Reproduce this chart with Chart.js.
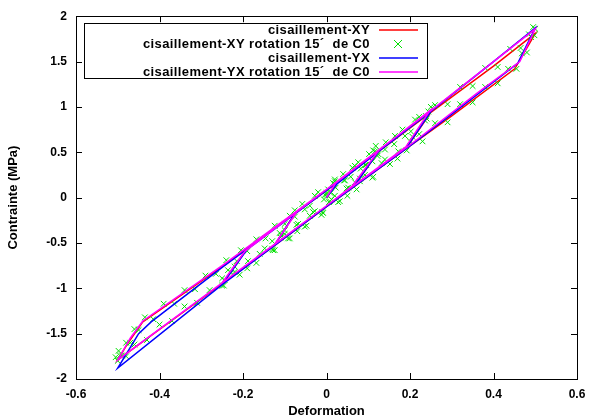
<!DOCTYPE html>
<html lang="fr">
<head>
<meta charset="UTF-8">
<title>Cisaillement</title>
<style>
  html, body { margin: 0; padding: 0; background: #fff; }
  #wrap { width: 602px; height: 420px; }
</style>
</head>
<body>
<div id="wrap"><canvas id="chart" width="602" height="420"></canvas></div>
<script src="https://cdn.jsdelivr.net/npm/chart.js"></script>
<script>
// axes
const xTicks = [-0.6, -0.4, -0.2, 0, 0.2, 0.4, 0.6];
const yTicks = [-2, -1.5, -1, -0.5, 0, 0.5, 1, 1.5, 2];

const seriesNames = [
  'cisaillement-XY',
  'cisaillement-XY rotation 15\u00B4  de C0',
  'cisaillement-YX',
  'cisaillement-YX rotation 15\u00B4  de C0'
];

// cisaillement-XY (red line)
const xyPath = [
  [0, 0], [0.025, 0.16], [0.125, 0.51], [0.065, 0.12], [0, -0.10], [-0.125, -0.53],
  [-0.075, -0.17], [0, 0.08], [0.125, 0.51], [0.25, 0.94], [0.19, 0.54], [0, -0.10],
  [-0.125, -0.53], [-0.25, -0.95], [-0.19, -0.56], [0, 0.08], [0.25, 0.94], [0.4, 1.45],
  [0.5, 1.81], [0.451, 1.42], [0.3, 0.90], [0.2, 0.57], [0, -0.10], [-0.25, -0.95],
  [-0.5, -1.79], [-0.475, -1.60], [-0.44, -1.37], [-0.25, -0.76], [0, 0.08], [0.25, 0.94],
  [0.4, 1.45], [0.5, 1.81]
];

// cisaillement-XY rotation 15 (green crosses)
const xyRotPts = [
  [0, 0.03], [0.004, 0.09], [-0.006, -0.02], [0.01, 0.05], [0.016, 0.16], [0.022, 0.11], [0.006, -0.05],
  [0.04, 0.26], [0.058, 0.23], [0.076, 0.39], [0.094, 0.36], [0.112, 0.52], [0.124, 0.48], [0.118, 0.57],
  [0.11, 0.40], [0.095, 0.36], [0.08, 0.18], [0.068, 0.17],
  [0.048, 0.10], [0.028, -0.05], [0.008, -0.04], [-0.012, -0.19], [-0.032, -0.16], [-0.052, -0.32],
  [-0.072, -0.30], [-0.092, -0.45], [-0.11, -0.44], [-0.124, -0.58], [-0.13, -0.48],
  [-0.112, -0.39], [-0.1, -0.36], [-0.088, -0.20], [-0.076, -0.21],
  [-0.058, -0.07], [-0.04, -0.09], [-0.02, 0.06], [0.0, 0.05], [0.02, 0.18], [0.042, 0.19],
  [0.062, 0.33], [0.082, 0.32], [0.102, 0.48], [0.122, 0.46], [0.142, 0.61], [0.162, 0.59],
  [0.182, 0.75], [0.202, 0.73], [0.222, 0.89], [0.24, 0.87], [0.25, 1.00], [0.244, 0.95],
  [0.238, 0.90], [0.222, 0.70], [0.206, 0.67], [0.192, 0.52],
  [0.172, 0.51], [0.152, 0.37], [0.132, 0.38], [0.112, 0.23], [0.092, 0.25], [0.072, 0.09],
  [0.052, 0.11], [0.032, -0.04], [0.012, -0.02], [-0.008, -0.17], [-0.028, -0.15], [-0.048, -0.31],
  [-0.068, -0.29], [-0.088, -0.45], [-0.108, -0.42], [-0.128, -0.58], [-0.148, -0.56],
  [-0.168, -0.72], [-0.188, -0.70], [-0.208, -0.85], [-0.228, -0.83], [-0.246, -0.97],
  [-0.25, -0.89], [-0.244, -0.91],
  [-0.236, -0.80], [-0.22, -0.76], [-0.205, -0.58], [-0.19, -0.59],
  [-0.168, -0.46], [-0.146, -0.45], [-0.124, -0.31], [-0.1, -0.29], [-0.076, -0.14], [-0.052, -0.13],
  [-0.028, 0.02], [-0.004, 0.03], [0.02, 0.20], [0.044, 0.19], [0.068, 0.35], [0.092, 0.36],
  [0.116, 0.51], [0.14, 0.53], [0.164, 0.68], [0.188, 0.68], [0.212, 0.86], [0.236, 0.85],
  [0.26, 1.02], [0.29, 1.03], [0.32, 1.22], [0.35, 1.23], [0.38, 1.43], [0.41, 1.44],
  [0.44, 1.64], [0.465, 1.65], [0.485, 1.80], [0.498, 1.79], [0.5, 1.86], [0.495, 1.88],
  [0.49, 1.77], [0.48, 1.60], [0.468, 1.59], [0.455, 1.42],
  [0.435, 1.42], [0.41, 1.26], [0.38, 1.22], [0.35, 1.05], [0.32, 1.03], [0.29, 0.83],
  [0.26, 0.82], [0.23, 0.62], [0.2, 0.62], [0.17, 0.43], [0.14, 0.42], [0.11, 0.22],
  [0.08, 0.21], [0.05, 0.02], [0.02, 0.02], [-0.01, -0.16], [-0.04, -0.20], [-0.07, -0.37],
  [-0.1, -0.40], [-0.13, -0.57], [-0.16, -0.62], [-0.19, -0.78], [-0.22, -0.82], [-0.25, -0.97],
  [-0.28, -1.02], [-0.31, -1.16], [-0.34, -1.20], [-0.37, -1.36], [-0.4, -1.40], [-0.43, -1.57],
  [-0.46, -1.62], [-0.48, -1.75], [-0.495, -1.74], [-0.5, -1.80], [-0.505, -1.76], [-0.498, -1.69],
  [-0.49, -1.74], [-0.48, -1.60], [-0.47, -1.60], [-0.46, -1.45], [-0.45, -1.46], [-0.435, -1.32],
  [-0.415, -1.34], [-0.39, -1.17], [-0.365, -1.17], [-0.34, -1.02], [-0.315, -1.01], [-0.29, -0.86],
  [-0.265, -0.84], [-0.24, -0.69], [-0.215, -0.70]
];

// cisaillement-YX (blue line)
const yxPath = [
  [0, 0], [0.025, 0.15], [0.125, 0.51], [0.065, 0.12], [0, -0.10], [-0.125, -0.53],
  [-0.075, -0.17], [0, 0.08], [0.125, 0.51], [0.25, 0.95], [0.19, 0.54], [0, -0.10],
  [-0.125, -0.53], [-0.25, -0.96], [-0.19, -0.57], [0, 0.08], [0.25, 0.95], [0.4, 1.50],
  [0.5, 1.87], [0.458, 1.48], [0.3, 0.92], [0.2, 0.57], [0, -0.10], [-0.25, -0.96],
  [-0.5, -1.88], [-0.45, -1.50], [-0.42, -1.37], [-0.25, -0.77], [0, 0.08], [0.25, 0.95],
  [0.4, 1.50], [0.5, 1.87]
];

// cisaillement-YX rotation 15 (magenta line)
const yxRotPath = [
  [0, 0], [0.022, 0.16], [0.125, 0.52], [0.062, 0.13], [0, -0.09], [-0.125, -0.52],
  [-0.07, -0.15], [0, 0.09], [0.125, 0.52], [0.248, 0.96], [0.19, 0.56], [0, -0.09],
  [-0.125, -0.52], [-0.25, -0.94], [-0.195, -0.59], [0, 0.09], [0.25, 0.96], [0.4, 1.50],
  [0.5, 1.86], [0.463, 1.50], [0.36, 1.15], [0.2, 0.58], [0, -0.09], [-0.25, -0.94],
  [-0.5, -1.79], [-0.47, -1.55], [-0.44, -1.36], [-0.25, -0.75], [0, 0.09], [0.25, 0.96],
  [0.4, 1.50], [0.5, 1.86]
];

const colors = ['#ff0000', '#00e000', '#0000ff', '#ff00ff'];
const FONT = "'Liberation Sans', Arial, Helvetica, sans-serif";

function toXY(list) {
  return list.map(p => ({ x: p[0], y: p[1] }));
}

// border, inward ticks on all sides and the gnuplot style key
const framePlugin = {
  id: 'frame',
  afterDraw(chart) {
    const ctx = chart.ctx;
    const a = chart.chartArea;
    const sx = chart.scales.x, sy = chart.scales.y;
    const tl = 6;
    ctx.save();
    ctx.strokeStyle = '#000';
    ctx.lineWidth = 1;
    ctx.beginPath();
    xTicks.forEach(v => {
      const px = Math.round(sx.getPixelForValue(v)) + 0.5;
      ctx.moveTo(px, a.bottom); ctx.lineTo(px, a.bottom - tl);
      ctx.moveTo(px, a.top); ctx.lineTo(px, a.top + tl);
    });
    yTicks.forEach(v => {
      const py = Math.round(sy.getPixelForValue(v)) + 0.5;
      ctx.moveTo(a.left, py); ctx.lineTo(a.left + tl, py);
      ctx.moveTo(a.right, py); ctx.lineTo(a.right - tl, py);
    });
    ctx.stroke();
    ctx.strokeRect(Math.round(a.left) + 0.5, Math.round(a.top) + 0.5,
      Math.round(a.right - a.left), Math.round(a.bottom - a.top));

    // key
    const kx = 84.5, ky = 23.5, kw = 343, kh = 55;
    ctx.strokeRect(kx, ky, kw, kh);
    ctx.font = 'bold 13px ' + FONT;
    ctx.letterSpacing = '0.4px';
    ctx.textAlign = 'right';
    ctx.textBaseline = 'middle';
    for (let i = 0; i < seriesNames.length; i++) {
      const y = 30 + i * 14;
      ctx.fillStyle = '#000';
      ctx.fillText(seriesNames[i], 370, y);
      ctx.strokeStyle = colors[i];
      ctx.lineWidth = 1.5;
      ctx.beginPath();
      if (i === 1) {
        ctx.lineWidth = 1;
        ctx.moveTo(394, y - 4); ctx.lineTo(402, y + 4);
        ctx.moveTo(402, y - 4); ctx.lineTo(394, y + 4);
      } else {
        ctx.moveTo(379, y); ctx.lineTo(418, y);
      }
      ctx.stroke();
    }
    ctx.restore();
  }
};

const bgPlugin = {
  id: 'bg',
  beforeDraw(chart) {
    const ctx = chart.ctx;
    ctx.save();
    ctx.fillStyle = '#fff';
    ctx.fillRect(0, 0, chart.width, chart.height);
    ctx.restore();
  }
};

const tickFont = { family: FONT, size: 12, weight: 'bold' };
const titleFont = { family: FONT, size: 13, weight: 'bold' };

new Chart(document.getElementById('chart'), {
  type: 'scatter',
  data: {
    datasets: [
      { label: seriesNames[0], data: toXY(xyPath), showLine: true, borderColor: colors[0],
        borderWidth: 1.5, pointRadius: 0, order: 4 },
      { label: seriesNames[1], data: toXY(xyRotPts), showLine: false, borderColor: colors[1],
        backgroundColor: colors[1], pointStyle: 'crossRot', pointRadius: 4, borderWidth: 1, order: 3 },
      { label: seriesNames[2], data: toXY(yxPath), showLine: true, borderColor: colors[2],
        borderWidth: 1.5, pointRadius: 0, order: 2 },
      { label: seriesNames[3], data: toXY(yxRotPath), showLine: true, borderColor: colors[3],
        borderWidth: 1.5, pointRadius: 0, order: 1 }
    ]
  },
  options: {
    responsive: false,
    animation: false,
    layout: { padding: { left: 0, top: 16, right: 25, bottom: 0 } },
    plugins: { legend: { display: false }, tooltip: { enabled: false } },
    scales: {
      x: {
        type: 'linear', min: -0.6, max: 0.6,
        afterBuildTicks: s => { s.ticks = xTicks.map(v => ({ value: v })); },
        afterFit: s => { s.height = 41; },
        grid: { display: false, drawTicks: false },
        border: { display: false },
        ticks: { color: '#000', font: tickFont, padding: 8, maxRotation: 0, autoSkip: false,
          callback: v => String(Math.round(v * 10) / 10) },
        title: { display: true, text: 'Deformation', color: '#000', font: titleFont,
          padding: { top: 0, bottom: 1 } }
      },
      y: {
        type: 'linear', min: -2, max: 2,
        afterBuildTicks: s => { s.ticks = yTicks.map(v => ({ value: v })); },
        afterFit: s => { s.width = 76; },
        grid: { display: false, drawTicks: false },
        border: { display: false },
        ticks: { color: '#000', font: tickFont, padding: 9, autoSkip: false,
          callback: v => String(Math.round(v * 10) / 10) },
        title: { display: true, text: 'Contrainte (MPa)', color: '#000', font: titleFont,
          padding: { top: 6, bottom: 0 } }
      }
    }
  },
  plugins: [bgPlugin, framePlugin]
});
</script>
</body>
</html>
